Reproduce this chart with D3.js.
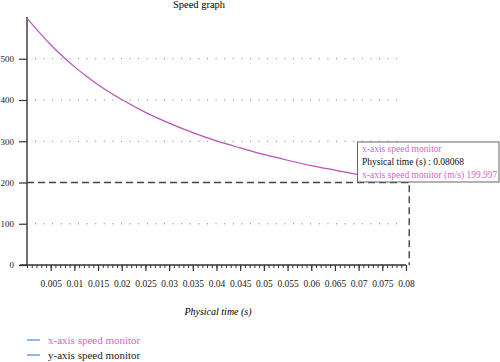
<!DOCTYPE html>
<meta charset="utf-8">
<style>
  body { margin: 0; background: #fff; }
  text { font-family: "Liberation Serif", "DejaVu Serif", serif; }
</style>
<body></body>
<script src="https://d3js.org/d3.v7.min.js"></script>
<script>

// time (s) and x-axis speed (m/s)
const times  = [0, 0.0025, 0.005, 0.0075, 0.01, 0.0125, 0.015, 0.02, 0.025, 0.03, 0.035, 0.04,
                0.045, 0.05, 0.055, 0.06, 0.065, 0.07, 0.075, 0.08068];
const speeds = [598, 565, 534, 506, 481, 458, 437, 401, 370, 344, 321, 301,
                284, 268, 254, 241, 230, 219, 210, 199.997];

const yTicks = [0, 100, 200, 300, 400, 500];
const xTicks = [0.005, 0.01, 0.015, 0.02, 0.025, 0.03, 0.035, 0.04, 0.045, 0.05,
                0.055, 0.06, 0.065, 0.07, 0.075, 0.08];
const gridVals = [100, 300, 400, 500];

const pickTime = 0.08068;
const pickSpeed = 199.997;

const legendNames = ["x-axis speed monitor", "y-axis speed monitor"];
const legendColors = ["#d466c0", "#222"];

const width = 500, height = 362;

const x = d3.scaleLinear().domain([0, 0.08]).range([27, 406]);
const y = d3.scaleLinear().domain([0, 600]).range([265, 17.5]);

const svg = d3.select("body").append("svg")
    .attr("width", width)
    .attr("height", height);

// title
svg.append("text")
    .attr("x", 199).attr("y", 8)
    .attr("text-anchor", "middle")
    .attr("font-size", 10.5)
    .text("Speed graph");

// dotted grid
svg.append("g")
    .selectAll("line")
    .data(gridVals)
    .join("line")
      .attr("x1", 35).attr("x2", 400)
      .attr("y1", d => y(d)).attr("y2", d => y(d))
      .attr("stroke", "#777")
      .attr("stroke-width", 1)
      .attr("stroke-dasharray", "1 7.6");

// y axis
const yAxis = svg.append("g")
    .attr("transform", "translate(27,0)")
    .call(d3.axisLeft(y).tickValues(yTicks).tickSize(8).tickPadding(5).tickFormat(d3.format("d")));
yAxis.select(".domain").attr("d", `M0,${y(600) - 0.5}V${y(0)}`).attr("stroke-width", 1.4).attr("stroke", "#333");
yAxis.selectAll(".tick line").attr("stroke", "#333").attr("stroke-width", 1.2);
yAxis.selectAll(".tick text").attr("font-size", 9).attr("font-family", "Liberation Serif").attr("fill", "#222");

// x axis: minor ticks then major ticks
const xAxisG = svg.append("g").attr("transform", `translate(0,${y(0)})`);
xAxisG.call(d3.axisBottom(x).ticks(80).tickSize(3).tickFormat(""));
xAxisG.select(".domain").remove();
xAxisG.selectAll(".tick line").attr("stroke", "#333");
const xMajor = svg.append("g").attr("transform", `translate(0,${y(0)})`)
    .call(d3.axisBottom(x).tickValues(xTicks).tickSize(6).tickPadding(9).tickFormat(d => d));
xMajor.select(".domain").attr("d", "M20,0H406").attr("stroke", "#333").attr("stroke-width", 1.4);
xMajor.selectAll(".tick line").attr("stroke", "#333").attr("stroke-width", 1.2);
xMajor.selectAll(".tick text").attr("font-size", 9.5).attr("font-family", "Liberation Serif").attr("fill", "#222");

// axis title
svg.append("text")
    .attr("x", 218).attr("y", 315)
    .attr("text-anchor", "middle")
    .attr("font-size", 10)
    .attr("font-style", "italic")
    .text("Physical time (s)");

// curve
const line = d3.line().x((d, i) => x(times[i])).y(d => y(d)).curve(d3.curveMonotoneX);
svg.append("path")
    .datum(speeds)
    .attr("fill", "none")
    .attr("stroke", "#b653b8")
    .attr("stroke-width", 1.2)
    .attr("d", line);

// crosshair at the picked point
svg.append("path")
    .attr("fill", "none")
    .attr("stroke", "#444")
    .attr("stroke-width", 1.4)
    .attr("stroke-dasharray", "7 4")
    .attr("d", `M27,${y(pickSpeed)}H${x(pickTime)}V${y(0)}`);

// tooltip
const tip = svg.append("g").attr("transform", "translate(357.5,142)");
tip.append("rect")
    .attr("width", 141.5).attr("height", 40)
    .attr("fill", "#fff")
    .attr("stroke", "#666")
    .attr("stroke-width", 1);
const tipLines = [
  { t: "x-axis speed monitor", c: "#d466c0" },
  { t: "Physical time (s) : " + pickTime, c: "#111" },
  { t: "x-axis speed monitor (m/s) " + pickSpeed, c: "#d466c0" }
];
tip.selectAll("text")
    .data(tipLines)
    .join("text")
      .attr("x", 4.5)
      .attr("y", (d, i) => 10 + i * 13)
      .attr("font-size", 9.5)
      .attr("fill", d => d.c)
      .text(d => d.t);

// legend
const leg = svg.append("g")
    .selectAll("g")
    .data(legendNames)
    .join("g")
      .attr("transform", (d, i) => `translate(27,${340 + i * 15})`);
leg.append("line")
    .attr("x1", 0).attr("x2", 13)
    .attr("stroke", "#5b8bdc")
    .attr("stroke-width", 1.3);
leg.append("text")
    .attr("x", 21).attr("dy", "0.32em")
    .attr("font-size", 11)
    .attr("fill", (d, i) => legendColors[i])
    .text(d => d);

</script>
